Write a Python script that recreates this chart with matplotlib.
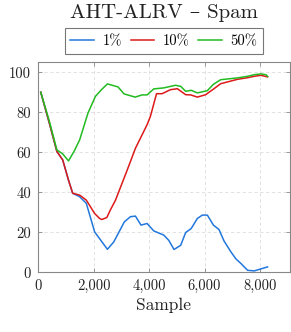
import matplotlib
matplotlib.use("Agg")
import matplotlib.pyplot as plt
from matplotlib.ticker import FuncFormatter

plt.rcParams['font.family'] = ['cmr10', 'DejaVu Serif']
plt.rcParams['axes.formatter.use_mathtext'] = True

title = "AHT-ALRV – Spam"
xlabel = "Sample"
labels = ["1%", "10%", "50%"]
colors = ["#2277dd", "#dd1a1a", "#22bb22"]

x_blue = [100, 400, 680, 890, 1100, 1250, 1500, 1740, 2040, 2500, 2730, 3110, 3330, 3510, 3710,
          3930, 4170, 4530, 4710, 4900, 5140, 5320, 5520, 5740, 5920, 6100, 6320, 6520, 6700,
          6950, 7130, 7310, 7550, 7790, 8270]
y_blue = [90, 75, 60.4, 56.2, 46, 39.5, 37.8, 34.5, 20.2, 11.5, 15.2, 25.2, 27.8, 28.1, 23.6,
          24.4, 20.7, 18.6, 16, 11.4, 13.5, 19.9, 21.9, 26.9, 28.6, 28.6, 23.6, 21.4, 15.7,
          10.2, 6.7, 4.4, 1, 0.7, 2.7]

x_red = [100, 400, 680, 890, 1100, 1250, 1500, 1740, 2040, 2220, 2300, 2480, 2600, 2790, 3210,
         3510, 3930, 4050, 4270, 4470, 4770, 5020, 5320, 5500, 5740, 6040, 6340, 6580, 7190,
         7550, 7790, 8030, 8270]
y_red = [90, 75, 60.4, 56.2, 46, 39.5, 38.6, 36.1, 29.4, 26.9, 26.4, 27.4, 31, 36, 51,
         62, 73.8, 78, 89.3, 89.3, 91.3, 91.8, 88.8, 88.7, 87.6, 88.8, 91.8, 94.3, 96.5,
         97.3, 98, 98.5, 97.7]

x_green = [100, 400, 680, 890, 1100, 1300, 1500, 1800, 2070, 2300, 2500, 2880, 3100, 3500, 3750,
           3930, 4170, 4530, 4950, 5140, 5320, 5520, 5740, 6100, 6320, 6580, 7190, 7550, 7790,
           8030, 8210, 8270]
y_green = [90, 76, 61.2, 59.2, 55.7, 60.5, 66.2, 79.6, 88, 91.5, 94.2, 92.7, 89.2, 87.6, 88.7,
           88.7, 91.7, 92.2, 93.5, 93, 90.5, 91, 89.7, 90.8, 94, 96.3, 97.2, 98, 98.8,
           99.2, 98.8, 98]

xticks = [0, 2000, 4000, 6000, 8000]
yticks = [0, 20, 40, 60, 80, 100]

W, H = 291, 332
fig = plt.figure(figsize=(W / 100, H / 100), dpi=100)
ax = fig.add_axes([38 / W, 1 - 272.3 / H, (289.5 - 38) / W, (272.3 - 62.3) / H])

series = [(x_blue, y_blue), (x_red, y_red), (x_green, y_green)]
handles = []
for (xs, ys), c, lab in zip(series, colors, labels):
    h, = ax.plot(xs, ys, color=c, lw=1.1, label=lab)
    handles.append(h)

ax.set_xlim(0, 9060)
ax.set_ylim(0, 105)
ax.set_xticks(xticks)
ax.set_yticks(yticks)
ax.xaxis.set_major_formatter(FuncFormatter(lambda v, p: f"{int(v):,}"))
ax.yaxis.set_major_formatter(FuncFormatter(lambda v, p: f"{int(v)}"))
ax.tick_params(direction='in', top=True, right=True, length=3, width=0.6,
               colors='#888888', labelcolor='#222222', labelsize=10.5, pad=5)
ax.grid(True, color='#dddddd', lw=0.6, ls=(0, (4, 3)))
for s in ax.spines.values():
    s.set_color('#888888')
    s.set_linewidth(0.8)

ax.set_xlabel(xlabel, fontsize=12.5, color='#222222', labelpad=3)

fig.text(164 / W, 1 - 13 / H, title, ha='center', va='center', fontsize=15, color='#222222')

leg = fig.legend(handles=handles, labels=labels, loc='center', bbox_to_anchor=(164 / W, 1 - 41 / H),
                 ncol=3, fontsize=10.5, frameon=True, fancybox=False, handlelength=1.6,
                 columnspacing=0.6, handletextpad=0.6, borderpad=0.4)
leg.get_frame().set_edgecolor('#555555')
leg.get_frame().set_linewidth(0.8)

fig.savefig("out.png", dpi=100)
